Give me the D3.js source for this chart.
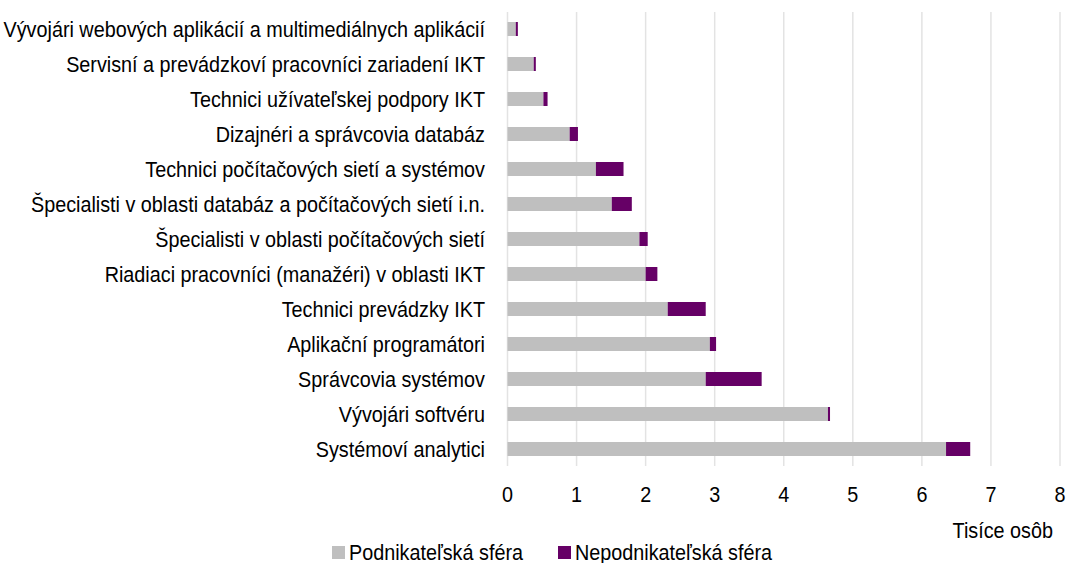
<!DOCTYPE html>
<html>
<head>
<meta charset="utf-8">
<script src="https://cdn.jsdelivr.net/npm/d3@7"></script>
<style>
	body { margin: 0; background: #fff; }
	svg text { font-family: "Liberation Sans", Arial, sans-serif; fill: #000; font-size: 22px; }
</style>
</head>
<body>
<svg width="1070" height="563"></svg>
<script>
// data (thousands of persons), top to bottom as drawn
let categories = [
	'Vývojári webových aplikácií a multimediálnych aplikácií',
	'Servisní a prevádzkoví pracovníci zariadení IKT',
	'Technici užívateľskej podpory IKT',
	'Dizajnéri a správcovia databáz',
	'Technici počítačových sietí a systémov',
	'Špecialisti v oblasti databáz a počítačových sietí i.n.',
	'Špecialisti v oblasti počítačových sietí',
	'Riadiaci pracovníci (manažéri) v oblasti IKT',
	'Technici prevádzky IKT',
	'Aplikační programátori',
	'Správcovia systémov',
	'Vývojári softvéru',
	'Systémoví analytici'
]
let podnikatelska = [0.12, 0.38, 0.52, 0.90, 1.28, 1.51, 1.91, 2.00, 2.32, 2.93, 2.87, 4.64, 6.35]
let nepodnikatelska = [0.03, 0.03, 0.06, 0.12, 0.40, 0.29, 0.12, 0.17, 0.55, 0.09, 0.81, 0.03, 0.35]
let seriesNames = ['Podnikateľská sféra', 'Nepodnikateľská sféra']
let seriesColors = ['#bfbfbf', '#660066']
let xTicks = [0, 1, 2, 3, 4, 5, 6, 7, 8]
let axisTitle = 'Tisíce osôb'

let svg = d3.select('svg')

// the original font is a condensed one, squeeze the text a bit
let squeeze = (px, py) => 'translate(' + px + ',' + py + ') scale(0.9,1)'

let x = d3.scaleLinear().domain([0, 8]).range([507.5, 1060])
let y = d3.scaleBand().domain(categories).range([11.5, 466.5]).paddingInner(0.6).paddingOuter(0.3)

let rows = categories.map((c, i) => ({cat: c, a: podnikatelska[i], b: nepodnikatelska[i]}))
let stacked = d3.stack().keys(['a', 'b'])(rows)

// gridlines
svg.append('g')
	.selectAll('line')
	.data(xTicks)
	.join('line')
	.attr('x1', d => x(d))
	.attr('x2', d => x(d))
	.attr('y1', 12)
	.attr('y2', 466)
	.attr('stroke', '#e3e3e3')
	.attr('stroke-width', 1.5)

// bars
svg.append('g')
	.selectAll('g')
	.data(stacked)
	.join('g')
	.attr('fill', (d, i) => seriesColors[i])
	.selectAll('rect')
	.data(d => d)
	.join('rect')
	.attr('x', d => x(d[0]))
	.attr('width', d => x(d[1]) - x(d[0]))
	.attr('y', d => y(d.data.cat))
	.attr('height', y.bandwidth())

// category labels
svg.append('g')
	.selectAll('text')
	.data(categories)
	.join('text')
	.attr('transform', d => squeeze(485, y(d) + y.bandwidth() / 2))
	.attr('dy', '0.35em')
	.attr('text-anchor', 'end')
	.text(d => d)

// x tick labels
svg.append('g')
	.selectAll('text')
	.data(xTicks)
	.join('text')
	.attr('transform', d => squeeze(x(d), 502))
	.attr('text-anchor', 'middle')
	.text(d => d)

svg.append('text')
	.attr('transform', squeeze(1053, 538))
	.attr('text-anchor', 'end')
	.text(axisTitle)

// legend
let legendX = [332, 558]
let legend = svg.append('g')
	.selectAll('g')
	.data(seriesNames)
	.join('g')
	.attr('transform', (d, i) => 'translate(' + legendX[i] + ',560)')
legend.append('rect')
	.attr('x', 0)
	.attr('y', -14)
	.attr('width', 13)
	.attr('height', 13)
	.attr('fill', (d, i) => seriesColors[i])
legend.append('text')
	.attr('transform', squeeze(17, 0))
	.text(d => d)
</script>
</body>
</html>
